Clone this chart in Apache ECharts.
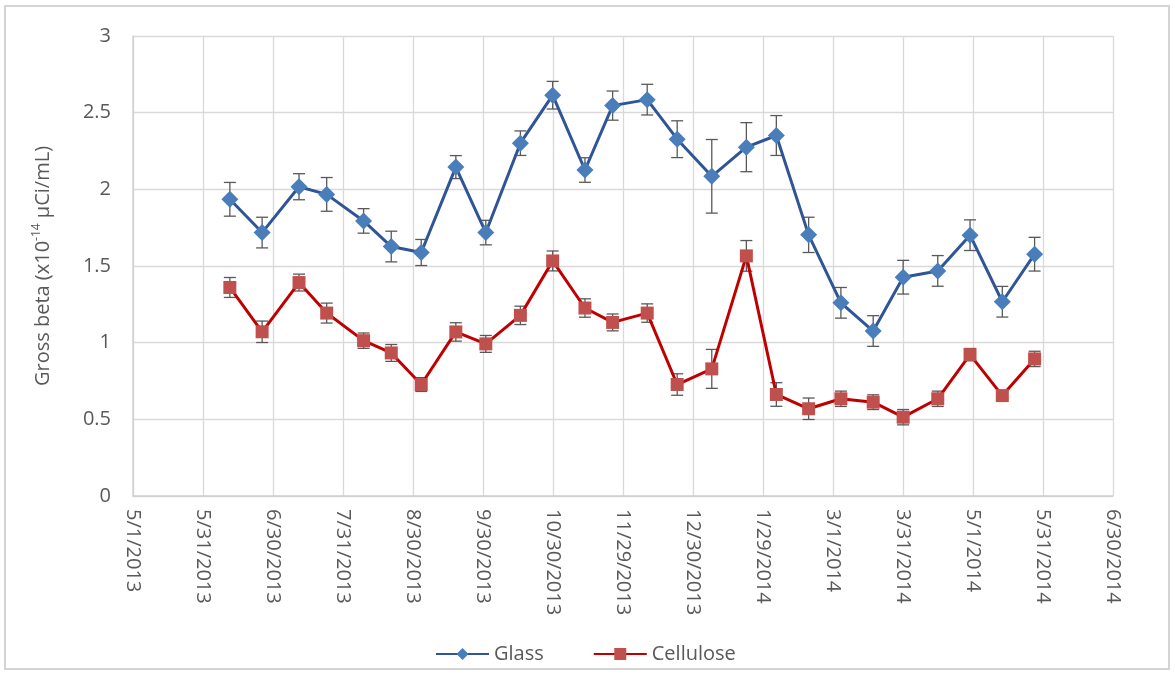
<!DOCTYPE html>
<html>
<head>
<meta charset="utf-8">
<title>Gross beta</title>
<script src="https://cdn.jsdelivr.net/npm/echarts@6/dist/echarts.min.js"></script>
<style>
  html, body { margin: 0; padding: 0; background: #fff; }
  #main { width: 1175px; height: 674px; }
</style>
</head>
<body>
<div id="main"></div>
<script>
// sample dates
var sampleDates = ['2013-06-12', '2013-06-26', '2013-07-12', '2013-07-24', '2013-08-09', '2013-08-21',
    '2013-09-03', '2013-09-18', '2013-10-01', '2013-10-16', '2013-10-30', '2013-11-13', '2013-11-25',
    '2013-12-10', '2013-12-23', '2014-01-07', '2014-01-22', '2014-02-04', '2014-02-18', '2014-03-04',
    '2014-03-18', '2014-03-31', '2014-04-15', '2014-04-29', '2014-05-13', '2014-05-27'];

var glassValues = [1.935, 1.718, 2.017, 1.967, 1.794, 1.627, 1.588, 2.145, 1.718, 2.301, 2.614, 2.126, 2.546,
    2.585, 2.327, 2.085, 2.275, 2.351, 1.703, 1.26, 1.076, 1.427, 1.468, 1.701, 1.267, 1.577];
var glassErrors = [0.11, 0.1, 0.085, 0.11, 0.08, 0.1, 0.085, 0.075, 0.08, 0.08, 0.09, 0.08, 0.095,
    0.1, 0.12, 0.24, 0.16, 0.13, 0.115, 0.1, 0.1, 0.11, 0.1, 0.1, 0.1, 0.11];

var celluloseValues = [1.36, 1.071, 1.392, 1.193, 1.013, 0.933, 0.727, 1.07, 0.992, 1.178, 1.533, 1.226, 1.132,
    1.193, 0.727, 0.829, 1.566, 0.662, 0.569, 0.634, 0.612, 0.514, 0.634, 0.922, 0.655, 0.894];
var celluloseErrors = [0.065, 0.07, 0.055, 0.065, 0.05, 0.055, 0.045, 0.06, 0.055, 0.06, 0.065, 0.06, 0.055,
    0.06, 0.07, 0.127, 0.1, 0.077, 0.07, 0.05, 0.048, 0.05, 0.05, 0.04, 0.02, 0.05];

var tickLabels = ['5/1/2013', '5/31/2013', '6/30/2013', '7/31/2013', '8/30/2013', '9/30/2013', '10/30/2013',
    '11/29/2013', '12/30/2013', '1/29/2014', '3/1/2014', '3/31/2014', '5/1/2014', '5/31/2014', '6/30/2014'];

var axisStart = '2013-05-01';
var axisEnd = '2014-06-30';

function dayOf(s) {
    var p = s.split('-');
    return Date.UTC(+p[0], +p[1] - 1, +p[2]) / 86400000;
}
// x is measured in tick steps (Excel splits the date span in 14 equal parts)
var day0 = dayOf(axisStart);
var step = (dayOf(axisEnd) - day0) / (tickLabels.length - 1);
var xs = sampleDates.map(function(d) { return (dayOf(d) - day0) / step; });

function pairs(vals) {
    return vals.map(function(v, i) { return [xs[i], v]; });
}
function bars(vals, errs) {
    return vals.map(function(v, i) { return [xs[i], v - errs[i], v + errs[i]]; });
}

var textColor = '#595959';
var font = 'Open Sans';

function errorBar(params, api) {
    var lo = api.coord([api.value(0), api.value(1)]);
    var hi = api.coord([api.value(0), api.value(2)]);
    var w = 6;
    var style = { stroke: '#595959', lineWidth: 1.3, fill: null };
    return {
        type: 'group',
        children: [
            { type: 'line', shape: { x1: lo[0], y1: lo[1], x2: hi[0], y2: hi[1] }, style: style },
            { type: 'line', shape: { x1: lo[0] - w, y1: lo[1], x2: lo[0] + w, y2: lo[1] }, style: style },
            { type: 'line', shape: { x1: hi[0] - w, y1: hi[1], x2: hi[0] + w, y2: hi[1] }, style: style }
        ]
    };
}

var chart = echarts.init(document.getElementById('main'));
var option = {
    animation: false,
    backgroundColor: '#fff',
    textStyle: { fontFamily: font },
    graphic: [{
        type: 'rect',
        shape: { x: 5, y: 6, width: 1164, height: 663 },
        style: { fill: null, stroke: '#d4d4d4', lineWidth: 2 },
        silent: true
    }],
    grid: { left: 133, right: 62, top: 36, bottom: 178 },
    legend: {
        data: ['Glass', 'Cellulose'],
        left: 430,
        top: 639,
        itemWidth: 53,
        itemHeight: 15,
        itemGap: 49,
        textStyle: { color: textColor, fontSize: 20, fontFamily: font }
    },
    xAxis: {
        type: 'value',
        min: 0,
        max: tickLabels.length - 1,
        interval: 1,
        axisLine: { lineStyle: { color: '#d0d0d0', width: 1.5 } },
        axisTick: { show: false },
        splitLine: { show: true, lineStyle: { color: '#d9d9d9', width: 1.3 } },
        axisLabel: {
            rotate: -90,
            margin: 13,
            color: textColor,
            fontSize: 20,
            fontFamily: font,
            formatter: function(v) { return tickLabels[Math.round(v)]; }
        }
    },
    yAxis: {
        type: 'value',
        min: 0,
        max: 3,
        interval: 0.5,
        name: '{a|Gross beta (x10}{s|-14}{a| µCi/mL)}',
        nameLocation: 'middle',
        nameGap: 78,
        nameTextStyle: {
            rich: {
                a: { fontSize: 20, color: textColor, fontFamily: font, lineHeight: 24 },
                s: { fontSize: 12, color: textColor, fontFamily: font, lineHeight: 14, verticalAlign: 'top' }
            }
        },
        axisLine: { show: true, lineStyle: { color: '#d0d0d0', width: 1.5 } },
        axisTick: { show: false },
        splitLine: { lineStyle: { color: '#d9d9d9', width: 1.3 } },
        axisLabel: { color: textColor, fontSize: 20, fontFamily: font, margin: 22 }
    },
    series: [
        {
            type: 'custom',
            renderItem: errorBar,
            data: bars(glassValues, glassErrors),
            encode: { x: 0, y: [1, 2] },
            z: 1,
            silent: true
        },
        {
            type: 'custom',
            renderItem: errorBar,
            data: bars(celluloseValues, celluloseErrors),
            encode: { x: 0, y: [1, 2] },
            z: 1,
            silent: true
        },
        {
            name: 'Glass',
            type: 'line',
            data: pairs(glassValues),
            symbol: 'diamond',
            symbolSize: 17,
            showAllSymbol: true,
            lineStyle: { color: '#2F5597', width: 3 },
            itemStyle: { color: '#4A7EBB', borderWidth: 0 },
            z: 3
        },
        {
            name: 'Cellulose',
            type: 'line',
            data: pairs(celluloseValues),
            symbol: 'rect',
            symbolSize: 13,
            showAllSymbol: true,
            lineStyle: { color: '#C00000', width: 3 },
            itemStyle: { color: '#C0504D', borderWidth: 0 },
            z: 3
        }
    ]
};
chart.setOption(option);
</script>
</body>
</html>
